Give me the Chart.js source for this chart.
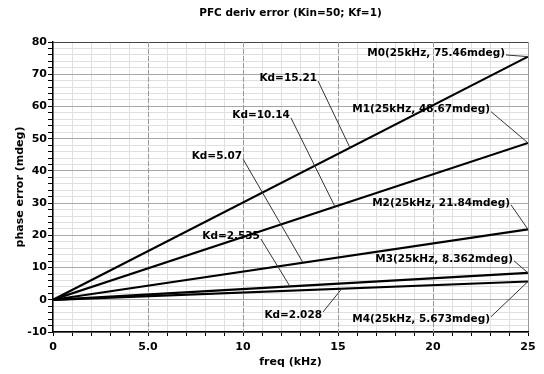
<!DOCTYPE html>
<html>
<head>
<meta charset="utf-8">
<script src="https://cdn.jsdelivr.net/npm/chart.js@4.4.0/dist/chart.umd.min.js"></script>
<style>
  html, body { margin: 0; padding: 0; background: #fff; }
</style>
</head>
<body>
<canvas id="chart" width="544" height="374"></canvas>
<script>
const chartTitle = "PFC deriv error (Kin=50; Kf=1)";
const freqKHz = [0, 25];
const markerNames = ["M0", "M1", "M2", "M3", "M4"];
const phaseErr = [
  [0, 75.46],
  [0, 48.67],
  [0, 21.84],
  [0, 8.362],
  [0, 5.673]
];
const kdValues = ["15.21", "10.14", "5.07", "2.535", "2.028"];
const xTickLabels = { 0: "0", 5: "5.0", 10: "10", 15: "15", 20: "20", 25: "25" };
const yTickLabels = [-10, 0, 10, 20, 30, 40, 50, 60, 70, 80];

// where the labels sit (right end of text, in freq / mdeg) and where the leader touches
const kdLabelPos = [[13.9, 68.8], [12.47, 57.4], [9.95, 44.6], [10.89, 19.8], [14.16, -4.7]];
const kdTouchFreq = [15.63, 14.84, 13.16, 12.47, 15.2];
const markerLabelPos = [[23.79, 76.6], [23.0, 59.0], [24.05, 30.1], [24.21, 12.7], [23.0, -6.2]];

const FONT = "bold 11px 'DejaVu Sans'";
const LABEL_FONT = "bold 10.5px 'DejaVu Sans'";

function pointOnSeries(chart, s, px) {
  const pts = chart.getDatasetMeta(s).data;
  for (let i = 0; i < pts.length - 1; i++) {
    const a = pts[i], b = pts[i + 1];
    if (px >= a.x && px <= b.x) {
      const t = (px - a.x) / (b.x - a.x);
      return a.y + t * (b.y - a.y);
    }
  }
  return pts[pts.length - 1].y;
}

const annotPlugin = {
  id: "annot",
  beforeDatasetsDraw(chart) {
    const { ctx, chartArea, scales: { x } } = chart;
    ctx.save();
    ctx.strokeStyle = "#999";
    ctx.lineWidth = 1;
    ctx.setLineDash([5, 2]);
    [5, 10, 15, 20].forEach((v) => {
      const px = Math.round(x.getPixelForValue(v)) + 0.5;
      ctx.beginPath();
      ctx.moveTo(px, chartArea.top);
      ctx.lineTo(px, chartArea.bottom);
      ctx.stroke();
    });
    ctx.restore();
  },
  afterDatasetsDraw(chart) {
    const { ctx, chartArea, scales: { x, y } } = chart;
    ctx.save();
    // title
    ctx.fillStyle = "#000";
    ctx.font = "bold 10.5px 'DejaVu Sans'";
    ctx.textAlign = "center";
    ctx.textBaseline = "middle";
    ctx.fillText(chartTitle, (chartArea.left + chartArea.right) / 2, 13);

    ctx.font = LABEL_FONT;
    ctx.textAlign = "right";
    ctx.strokeStyle = "#333";
    ctx.lineWidth = 1;

    // Kd labels
    for (let s = 0; s < kdValues.length; s++) {
      const lx = x.getPixelForValue(kdLabelPos[s][0]);
      const ly = y.getPixelForValue(kdLabelPos[s][1]);
      ctx.fillText("Kd=" + kdValues[s], lx, ly);
      const tx = x.getPixelForValue(kdTouchFreq[s]);
      const ty = pointOnSeries(chart, s, tx);
      ctx.beginPath();
      ctx.moveTo(lx + 1, ly + (ty > ly ? 3 : -3));
      ctx.lineTo(tx, ty);
      ctx.stroke();
    }

    // marker labels
    for (let s = 0; s < markerNames.length; s++) {
      const lx = x.getPixelForValue(markerLabelPos[s][0]);
      const ly = y.getPixelForValue(markerLabelPos[s][1]);
      const end = phaseErr[s][phaseErr[s].length - 1];
      ctx.fillText(markerNames[s] + "(" + freqKHz[freqKHz.length - 1] + "kHz, " + end + "mdeg)", lx, ly);
      const tx = x.getPixelForValue(freqKHz[freqKHz.length - 1]);
      const ty = y.getPixelForValue(end);
      ctx.beginPath();
      ctx.moveTo(lx + 1, ly + (ty > ly ? 2 : -3));
      ctx.lineTo(tx, ty);
      ctx.stroke();
    }
    ctx.restore();
  }
};

const datasets = phaseErr.map((vals, s) => ({
  label: markerNames[s],
  data: vals.map((v, i) => ({ x: freqKHz[i], y: v })),
  borderColor: "#000",
  borderWidth: 2.2,
  pointRadius: 0,
  tension: 0
}));

new Chart(document.getElementById("chart").getContext("2d"), {
  type: "line",
  data: { datasets: datasets },
  options: {
    responsive: false,
    animation: false,
    devicePixelRatio: 1,
    layout: { padding: { top: 42, right: 16, left: 0, bottom: 0 } },
    plugins: { legend: { display: false }, title: { display: false }, tooltip: { enabled: false } },
    scales: {
      x: {
        type: "linear",
        min: 0,
        max: 25,
        afterFit: (s) => { s.height = 42; },
        ticks: {
          stepSize: 1,
          autoSkip: false,
          maxRotation: 0,
          padding: 5,
          color: "#000",
          font: { family: "DejaVu Sans", size: 11, weight: "bold" },
          callback: (v) => (xTickLabels[v] !== undefined ? xTickLabels[v] : "")
        },
        grid: {
          color: (c) => (c.tick && c.tick.value === 25 ? "#999" : "#e0e0e0"),
          tickColor: "#000",
          tickLength: 4
        },
        border: { color: "#000", width: 1.5 },
        title: {
          display: true,
          text: "freq (kHz)",
          color: "#000",
          font: { family: "DejaVu Sans", size: 11, weight: "bold" },
          padding: { top: 0, bottom: 5 }
        }
      },
      y: {
        type: "linear",
        min: -10,
        max: 80,
        afterFit: (s) => { s.width = 53; },
        ticks: {
          stepSize: 2,
          autoSkip: false,
          padding: 1,
          color: "#000",
          font: { family: "DejaVu Sans", size: 11, weight: "bold" },
          callback: (v) => (yTickLabels.includes(v) ? String(v) : "")
        },
        grid: {
          color: (c) => {
            if (!c.tick) return "#e0e0e0";
            if (c.tick.value === 80) return "#444";
            return c.tick.value % 10 === 0 ? "#a8a8a8" : "#e0e0e0";
          },
          tickColor: "#000",
          tickLength: 5
        },
        border: { color: "#000", width: 1.5 },
        title: {
          display: true,
          text: "phase error (mdeg)",
          color: "#000",
          font: { family: "DejaVu Sans", size: 11, weight: "bold" },
          padding: { top: 14, bottom: 0 }
        }
      }
    }
  },
  plugins: [annotPlugin]
});
</script>
</body>
</html>
